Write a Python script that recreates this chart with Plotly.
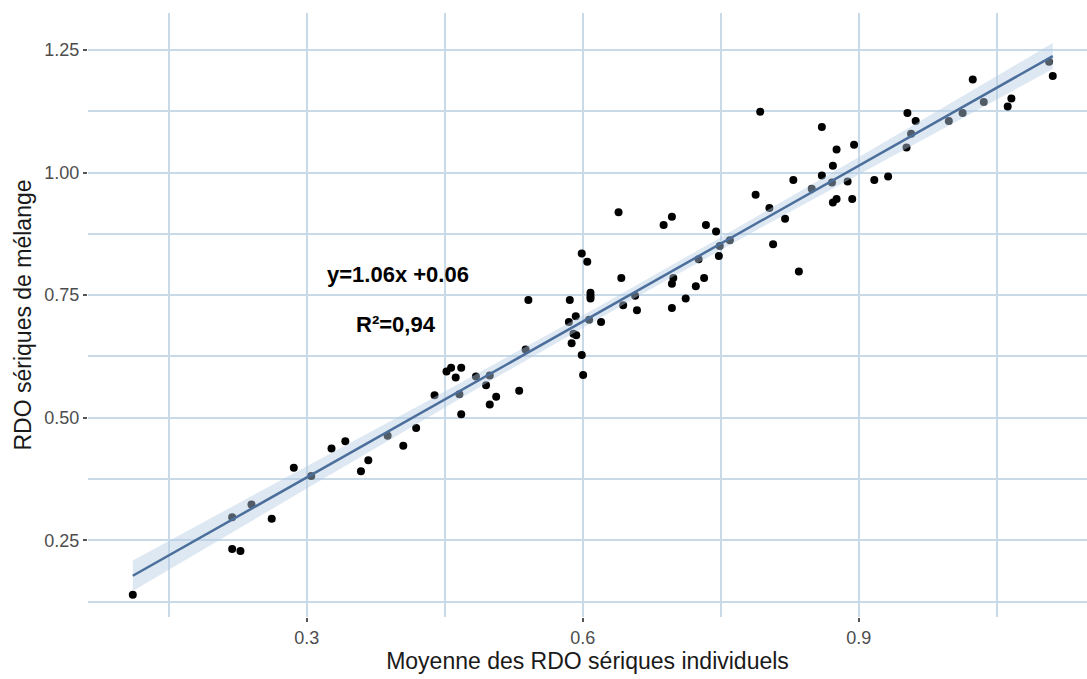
import numpy as np
import plotly.graph_objects as go

# Mean of individual serum RDO values (x) vs. RDO of the pooled serum (y)
rdo_individuels = [
    0.111, 0.219, 0.219, 0.228, 0.240, 0.262, 0.286, 0.305, 0.327, 0.342,
    0.359, 0.367, 0.388, 0.405, 0.419, 0.439, 0.452, 0.457, 0.468, 0.462,
    0.466, 0.468, 0.484, 0.499, 0.495, 0.506, 0.499, 0.531, 0.538, 0.541,
    0.586, 0.585, 0.5925, 0.590, 0.593, 0.588, 0.599, 0.6005, 0.599, 0.605,
    0.6085, 0.6085, 0.6085, 0.607, 0.620, 0.639, 0.642, 0.644, 0.657, 0.659,
    0.688, 0.697, 0.6985, 0.697, 0.697, 0.712, 0.723, 0.732, 0.726, 0.734,
    0.745, 0.748, 0.749, 0.760, 0.788, 0.793, 0.803, 0.807, 0.820, 0.829,
    0.835, 0.849, 0.860, 0.860, 0.871, 0.872, 0.872, 0.876, 0.876, 0.888,
    0.893, 0.895, 0.917, 0.932, 0.952, 0.957, 0.953, 0.962, 0.998, 1.013,
    1.024, 1.036, 1.062, 1.066, 1.107, 1.111,
]
rdo_melange = [
    0.139, 0.297, 0.232, 0.228, 0.323, 0.294, 0.398, 0.381, 0.437, 0.452,
    0.391, 0.413, 0.463, 0.443, 0.479, 0.546, 0.594, 0.602, 0.602, 0.582,
    0.548, 0.507, 0.584, 0.586, 0.566, 0.543, 0.527, 0.555, 0.639, 0.740,
    0.740, 0.695, 0.707, 0.671, 0.668, 0.652, 0.628, 0.587, 0.835, 0.818,
    0.755, 0.748, 0.743, 0.700, 0.695, 0.919, 0.785, 0.7295, 0.749, 0.719,
    0.893, 0.910, 0.785, 0.773, 0.724, 0.743, 0.768, 0.785, 0.823, 0.893,
    0.880, 0.830, 0.850, 0.862, 0.955, 1.124, 0.928, 0.854, 0.906, 0.985,
    0.798, 0.967, 0.994, 1.093, 0.980, 1.014, 0.939, 0.946, 1.047, 0.982,
    0.946, 1.057, 0.985, 0.992, 1.051, 1.079, 1.1215, 1.105, 1.105, 1.1215,
    1.190, 1.144, 1.135, 1.151, 1.226, 1.197,
]

# Regression reported on the chart
pente = 1.06
ordonnee = 0.06
r2_label = "R²=0,94"
equation_label = "y=1.06x +0.06"

x_ticks = [0.3, 0.6, 0.9]
y_ticks = [0.25, 0.50, 0.75, 1.00, 1.25]

x = np.array(rdo_individuels)
y = np.array(rdo_melange)
n = len(x)

# 95 % confidence band around the fitted line
t_crit = 1.986
residus = y - (pente * x + ordonnee)
s = np.sqrt(np.sum(residus ** 2) / (n - 2))
sxx = np.sum((x - x.mean()) ** 2)
xg = np.linspace(x.min(), x.max(), 120)
yg = pente * xg + ordonnee
se = s * np.sqrt(1.0 / n + (xg - x.mean()) ** 2 / sxx)
haut = yg + t_crit * se
bas = yg - t_crit * se

fig = go.Figure()

fig.add_trace(go.Scatter(
    x=x, y=y, mode="markers",
    marker=dict(color="black", size=8, line=dict(width=0)),
    hoverinfo="x+y", showlegend=False,
))

fig.add_trace(go.Scatter(
    x=np.concatenate([xg, xg[::-1]]),
    y=np.concatenate([haut, bas[::-1]]),
    fill="toself", fillcolor="rgba(180,205,228,0.45)",
    line=dict(width=0), mode="lines",
    hoverinfo="skip", showlegend=False,
))

fig.add_trace(go.Scatter(
    x=xg, y=yg, mode="lines",
    line=dict(color="#4b6e9b", width=2.5),
    hoverinfo="skip", showlegend=False,
))

grid_col = "#c8d9e8"

fig.update_layout(
    width=1087, height=679,
    margin=dict(l=88, r=0, t=13, b=62),
    paper_bgcolor="white", plot_bgcolor="white",
    font=dict(family="Liberation Sans, Arial, sans-serif"),
    xaxis=dict(
        range=[0.0623, 1.1482],
        tickvals=x_ticks, tickformat=".1f",
        showgrid=True, gridcolor=grid_col, gridwidth=1.6,
        minor=dict(dtick=0.15, tick0=0, showgrid=True,
                   gridcolor=grid_col, gridwidth=1.6, ticks=""),
        zeroline=False, showline=False,
        ticks="outside", ticklen=4, tickwidth=1.5, tickcolor="#555555",
        tickfont=dict(size=18, color="#4d4d4d"),
        title=dict(text="Moyenne des RDO sériques individuels",
                   font=dict(size=23, color="#1a1a1a"), standoff=5),
    ),
    yaxis=dict(
        range=[0.0935, 1.3255],
        tickvals=y_ticks, tickformat=".2f",
        showgrid=True, gridcolor=grid_col, gridwidth=1.6,
        minor=dict(dtick=0.125, tick0=0, showgrid=True,
                   gridcolor=grid_col, gridwidth=1.6, ticks=""),
        zeroline=False, showline=False,
        ticks="outside", ticklen=4, tickwidth=1.5, tickcolor="#555555",
        tickfont=dict(size=18, color="#4d4d4d"),
        title=dict(text="RDO sériques de mélange",
                   font=dict(size=23, color="#1a1a1a"), standoff=6),
    ),
    annotations=[
        dict(x=0.399, y=0.793, xref="x", yref="y", text="<b>" + equation_label + "</b>",
             showarrow=False, font=dict(size=22, color="black"), xanchor="center"),
        dict(x=0.397, y=0.691, xref="x", yref="y", text="<b>" + r2_label + "</b>",
             showarrow=False, font=dict(size=22, color="black"), xanchor="center"),
    ],
)

fig.write_html("out.html")
